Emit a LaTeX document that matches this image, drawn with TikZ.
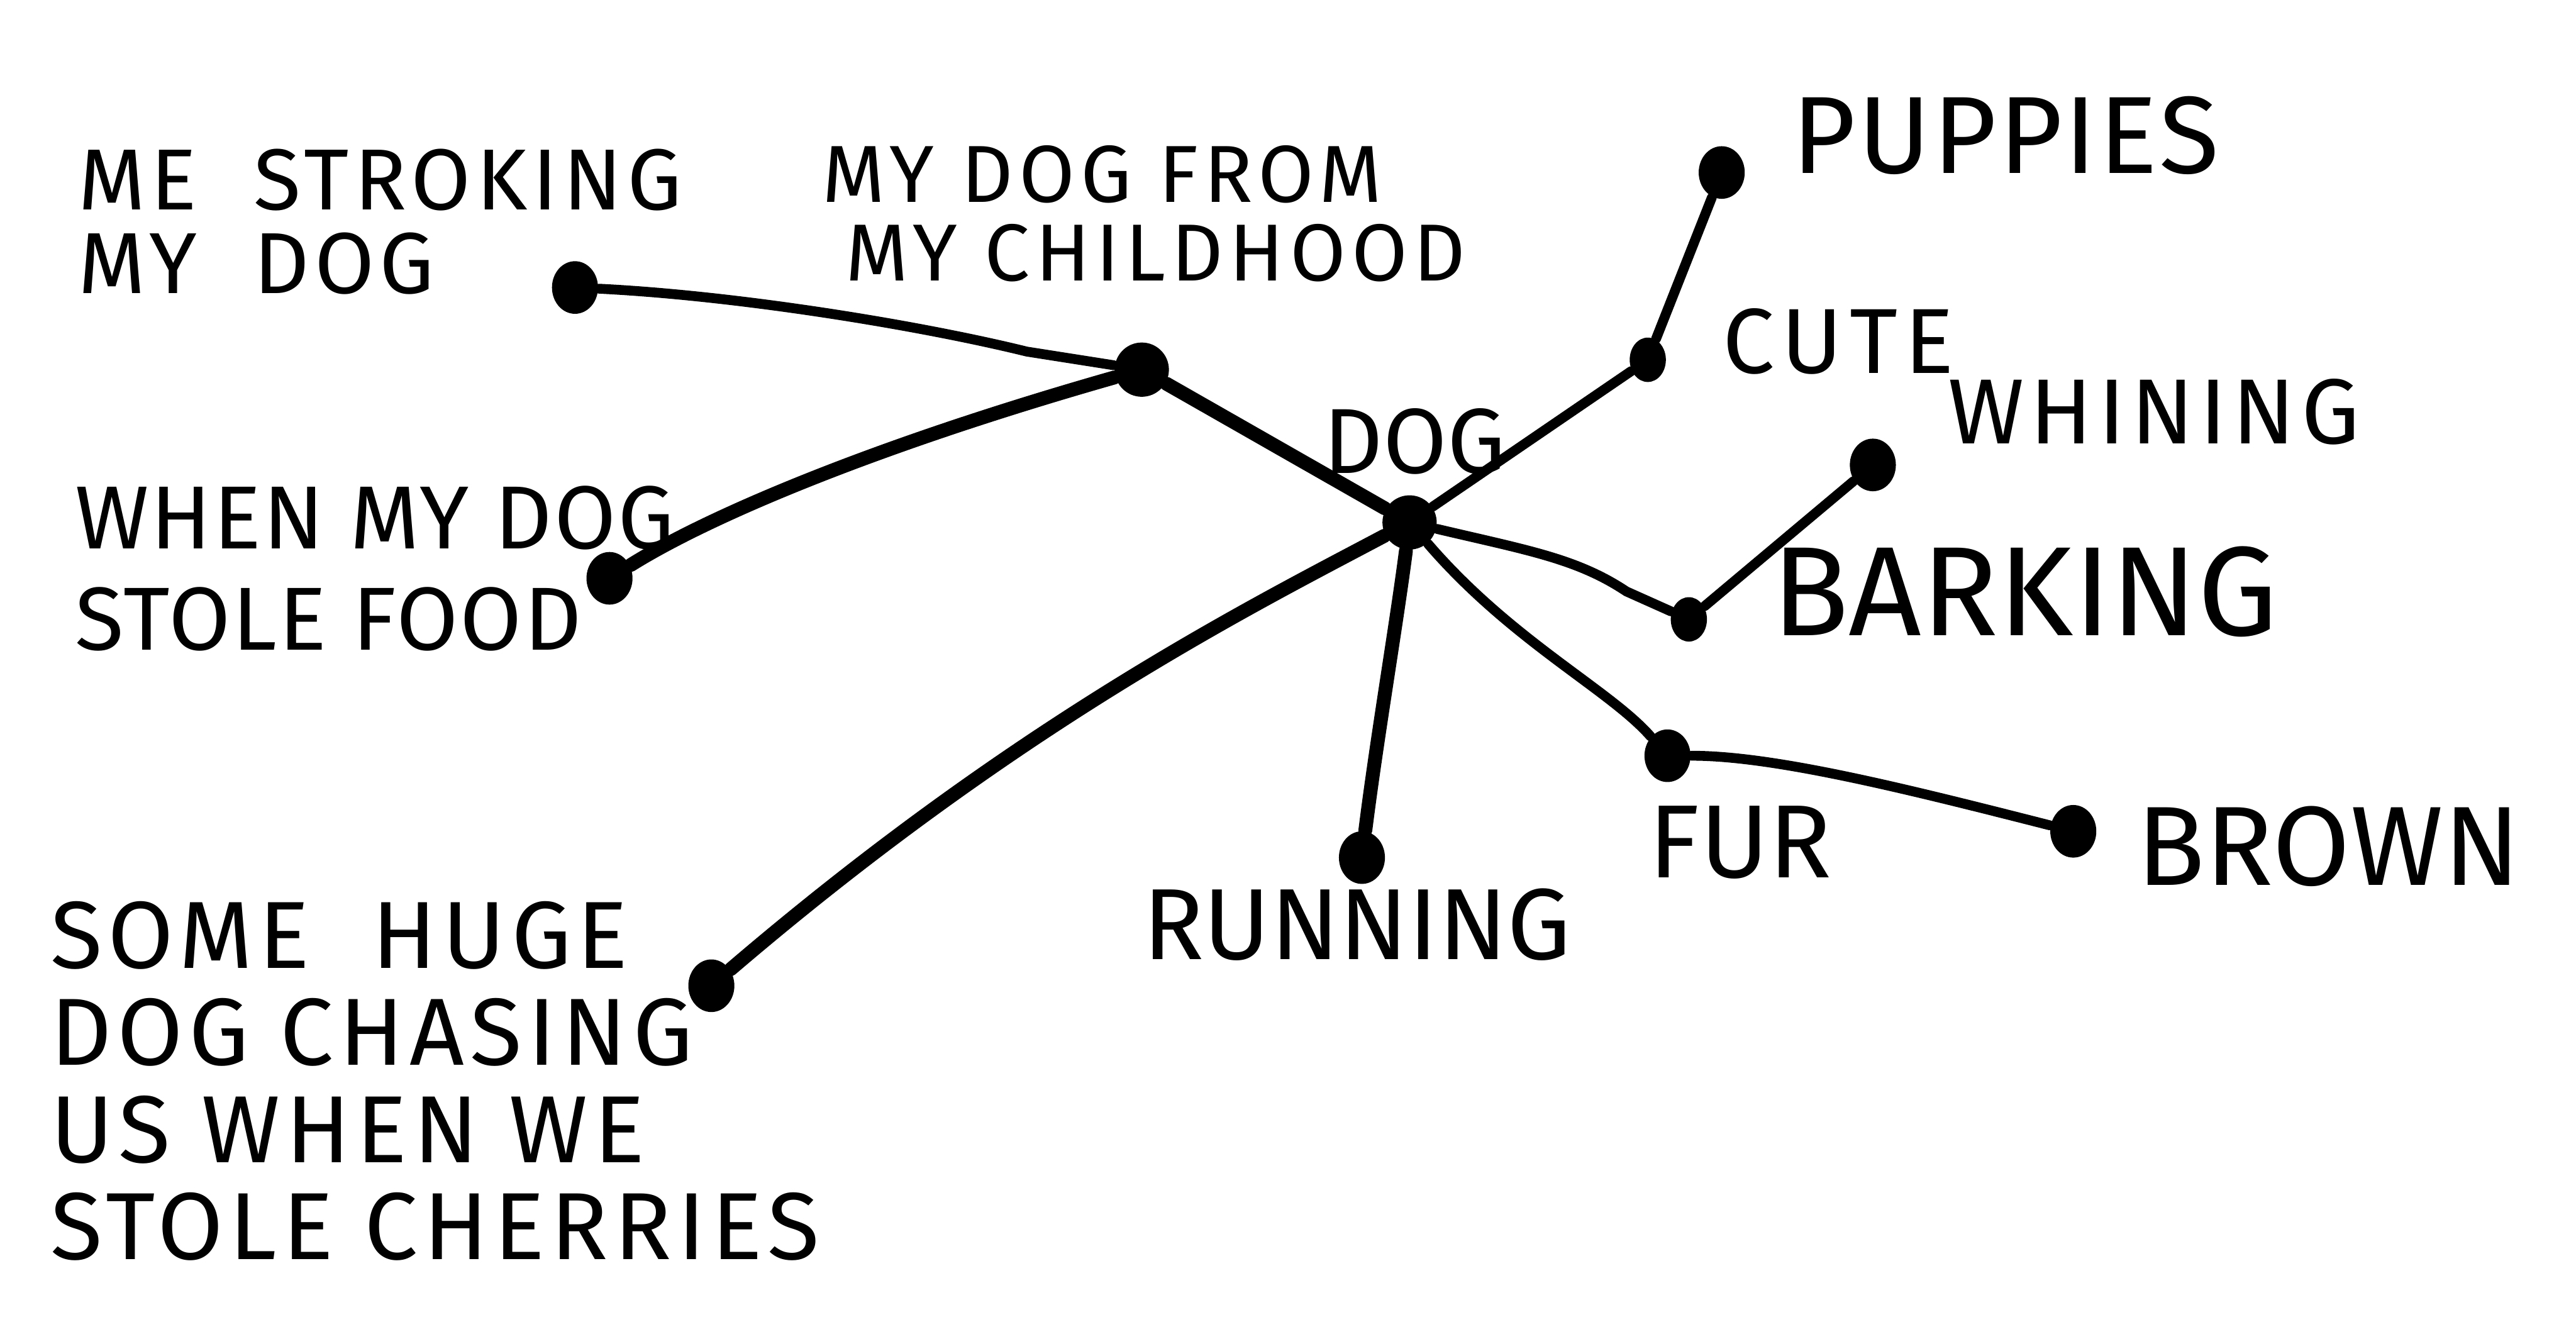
\documentclass[tikz,border=0pt]{standalone}
\usepackage{fontspec}
\usetikzlibrary{shapes.geometric}
\newfontfamily\hand{Fira Sans}
\newcommand\hf[3]{\hand\fontsize{#1}{#2}\selectfont\addfontfeatures{LetterSpace=#3}}
\begin{document}
\begin{tikzpicture}[x=0.01cm,y=-0.01cm,
  dot/.style={ellipse,fill=black,inner sep=0pt,minimum width=0.28cm,minimum height=0.32cm},
  big dot/.style={dot,minimum width=0.33cm,minimum height=0.33cm},
  small dot/.style={dot,minimum width=0.22cm,minimum height=0.27cm},
  edge/.style={line width=2.4pt,line cap=round,line join=round},
  thin edge/.style={line width=1.7pt,line cap=round,line join=round},
  lbl/.style={align=left,inner sep=0pt,anchor=north west,text=black}]
\useasboundingbox[fill=white] (0,0) rectangle (1568,818);
% dots
\node[big dot] (dog) at (858,318) {};
\node[big dot] (child) at (695,225) {};
\node[dot] (stroke) at (350,175) {};
\node[dot] (food) at (371,352) {};
\node[dot] (huge) at (433,600) {};
\node[dot] (run) at (829,522) {};
\node[dot] (fur) at (1015,460) {};
\node[dot] (brown) at (1262,506) {};
\node[small dot] (bark) at (1028,377) {};
\node[dot] (whine) at (1140,283) {};
\node[small dot] (cute) at (1003,219) {};
\node[dot] (pup) at (1048,105) {};
% connectors
\draw[thin edge] (stroke) .. controls (450,180) and (560,198) .. (625,214) -- (child);
\draw[edge] (child) -- (dog);
\draw[edge] (food) .. controls (430,315) and (530,272) .. (child);
\draw[edge] (dog) .. controls (760,370) and (620,440) .. (huge);
\draw[edge] (dog) .. controls (850,380) and (838,450) .. (run);
\draw[thin edge] (dog) .. controls (920,390) and (980,420) .. (fur);
\draw[thin edge] (fur) .. controls (1080,460) and (1160,480) .. (brown);
\draw[thin edge] (dog) .. controls (930,335) and (960,340) .. (990,360) -- (bark);
\draw[thin edge] (bark) -- (whine);
\draw[thin edge] (dog) -- (cute);
\draw[thin edge] (cute) -- (pup);
% labels
\node[lbl,font=\hf{15}{14.5}{6}] (lstroke) at (47,90) {ME\ \ STROKING\\MY\ \ DOG};
\node[lbl,font=\hf{14}{13.6}{7}] (lchild) at (500,88) {MY DOG FROM\\\hspace*{4pt}MY CHILDHOOD};
\node[lbl,font=\hf{15.5}{17.5}{2}] (lfood) at (45,295) {WHEN MY DOG\\STOLE FOOD};
\node[lbl,font=\hf{16.5}{16.8}{6}] (lhuge) at (30,548) {SOME\ \ HUGE\\DOG CHASING\\US WHEN WE\\STOLE CHERRIES};
\node[lbl,font=\hf{16}{16}{0}] (ldog) at (805,248) {DOG};
\node[lbl,font=\hf{19}{19}{2}] (lpup) at (1090,58) {PUPPIES};
\node[lbl,font=\hf{16}{16}{8}] (lcute) at (1048,187) {CUTE};
\node[lbl,font=\hf{16}{16}{6}] (lwhine) at (1185,230) {WHINING};
\node[lbl,font=\hf{22}{22}{0}] (lbark) at (1078,332) {BARKING};
\node[lbl,font=\hf{19.5}{19.5}{0}] (lbrown) at (1300,490) {BROWN};
\node[lbl,font=\hf{18}{18}{0}] (lfur) at (1003,490) {FUR};
\node[lbl,font=\hf{17.5}{17.5}{0}] (lrun) at (695,540) {RUNNING};
\end{tikzpicture}
\end{document}
